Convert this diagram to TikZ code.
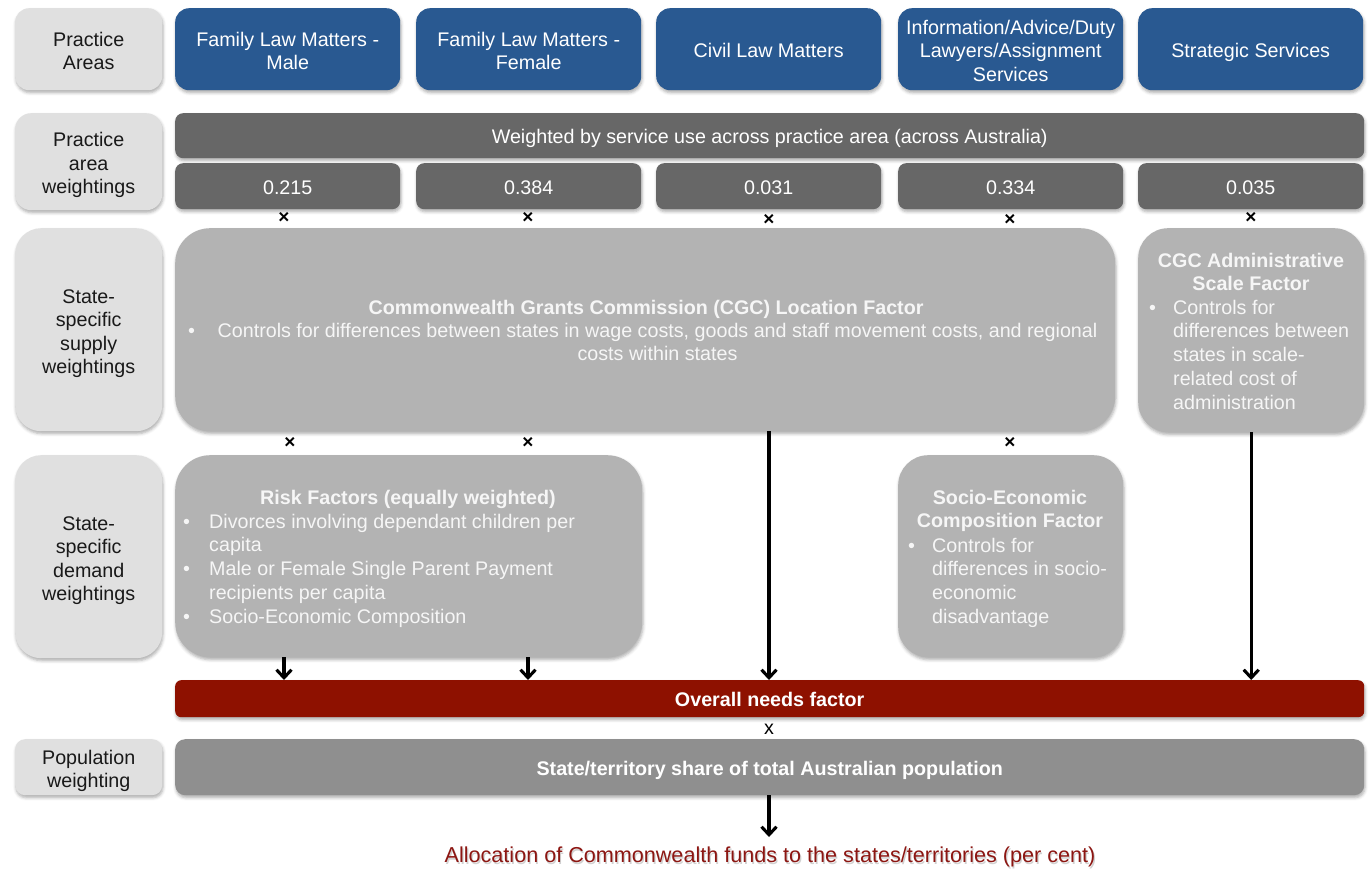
\documentclass[tikz,border=0pt]{standalone}
\usepackage{fontspec}
\setmainfont{Liberation Sans}
\usetikzlibrary{shadows.blur,arrows.meta}

\definecolor{areablue}{RGB}{41,89,145}
\definecolor{labelgrey}{RGB}{224,224,224}
\definecolor{labeltext}{RGB}{25,25,25}
\definecolor{weightgrey}{RGB}{103,103,103}
\definecolor{factorgrey}{RGB}{179,179,179}
\definecolor{factortext}{RGB}{246,246,246}
\definecolor{needsred}{RGB}{142,17,0}
\definecolor{popgrey}{RGB}{143,143,143}
\definecolor{allocred}{RGB}{140,22,18}

\newcommand\bodyfont{\fontsize{19.7}{23.4}\selectfont}
\newcommand\allocfont{\fontsize{21.6}{24}\selectfont}
\newcommand\multfont{\fontsize{19}{19}\selectfont\bfseries}
\newcommand\bul[1]{\makebox[#1][l]{\textbullet}}
% centred block of evenly spaced lines; its depth is trimmed so that it sits a little low in its box
\newcommand\cell[1]{\raisebox{0pt}[\height][\dimexpr\depth-8pt\relax]{\begin{tabular}{@{}c@{}}#1\end{tabular}}}

\begin{document}
\begin{tikzpicture}[x=1pt,y=-1pt,
  panel/.style={rectangle, rounded corners=#1, inner sep=0pt, anchor=north west,
    align=center, font=\bodyfont,
    blur shadow={shadow xshift=0.8pt, shadow yshift=-2.5pt,
      shadow blur radius=3pt, shadow opacity=32}},
  dims/.style 2 args={minimum width=#1pt, minimum height=#2pt},
  rowlabel/.style={panel=#1, fill=labelgrey, text=labeltext},
  area/.style={panel=14pt, dims={225}{82}, fill=areablue, text=white},
  weight/.style={panel=8pt, dims={225}{46}, fill=weightgrey, text=white},
  factor/.style={panel=#1, fill=factorgrey},
  txt/.style={inner sep=0pt, text=factortext, font=\bodyfont},
  mult/.style={inner sep=0pt, font=\multfont, text=black},
  flow/.style={draw=black, line width=3.1pt,
    -{Straight Barb[length=8pt, width=15pt]}}
]
\useasboundingbox (0,0) rectangle (1370,869);

% row labels
\node[rowlabel=14pt, dims={147}{82}]  (lblA) at (15,8)   {\cell{Practice\\Areas}};
\node[rowlabel=16pt, dims={147}{97}]  (lblB) at (15,113) {\cell{Practice\\area\\weightings}};
\node[rowlabel=26pt, dims={147}{203}] (lblC) at (15,228) {\cell{State-\\specific\\supply\\weightings}};
\node[rowlabel=26pt, dims={147}{203}] (lblD) at (15,455) {\cell{State-\\specific\\demand\\weightings}};
\node[rowlabel=10pt, dims={147}{56}]  (lblE) at (15,739) {\cell{Population\\weighting}};

% practice areas
\node[area] (fam1)   at (175,8)  {\cell{Family Law Matters -\\Male}};
\node[area] (fam2)   at (416,8)  {\cell{Family Law Matters -\\Female}};
\node[area] (civil)  at (656,8)  {\cell{Civil Law Matters}};
\node[area] (info)   at (898,8)  {\cell{Information/Advice/Duty\\Lawyers/Assignment\\Services}};
\node[area] (strat)  at (1138,8) {\cell{Strategic Services}};

% practice area weightings
\node[panel=8pt, dims={1189}{45}, fill=weightgrey, text=white] (wbar) at (175,113)
  {\cell{Weighted by service use across practice area (across Australia)}};
\node[weight] (w1) at (175,163)  {\cell{0.215}};
\node[weight] (w2) at (416,163)  {\cell{0.384}};
\node[weight] (w3) at (656,163)  {\cell{0.031}};
\node[weight] (w4) at (898,163)  {\cell{0.334}};
\node[weight] (w5) at (1138,163) {\cell{0.035}};

% multiplication marks between the rows
\node[mult] (m1) at (284,218)  {×};
\node[mult] (m2) at (528,218)  {×};
\node[mult] (m3) at (769,220)  {×};
\node[mult] (m4) at (1010,220) {×};
\node[mult] (m5) at (1251,218) {×};
\node[mult] (m6) at (290,443)  {×};
\node[mult] (m7) at (528,443)  {×};
\node[mult] (m8) at (1010,443) {×};

% supply weightings
\node[factor=35pt, dims={940}{203}] (loc) at (175,228) {};
\node[txt, anchor=base, font=\bodyfont\bfseries] (locTitle) at (646,314)
  {Commonwealth Grants Commission (CGC) Location Factor};
\node[txt, anchor=base west] (locBullet) at (188,337) {\textbullet};
\node[txt, anchor=base, font=\fontsize{19.7}{23.8}\selectfont] (locText) at (657.5,337)
  {\begin{tabular}[t]{@{}c@{}}Controls for differences between states in wage costs, goods and staff movement costs, and regional\\
   costs within states\end{tabular}};

\node[factor=30pt, dims={226}{204}] (admin) at (1138,228) {};
\node[txt, anchor=base, font=\fontsize{19.7}{23.8}\selectfont\bfseries] (adminTitle) at (1251,267)
  {\begin{tabular}[t]{@{}c@{}}CGC Administrative\\Scale Factor\end{tabular}};
\node[txt, anchor=base west, font=\fontsize{19.7}{23.9}\selectfont] (adminText) at (1149,314)
  {\begin{tabular}[t]{@{}l@{}l@{}}\bul{24pt} & Controls for\\ & differences between\\
   & states in scale-\\ & related cost of\\ & administration\end{tabular}};

% demand weightings
\node[factor=35pt, dims={467}{202}] (risk) at (175,455) {};
\node[txt, anchor=base, font=\bodyfont\bfseries] (riskTitle) at (408,504)
  {Risk Factors (equally weighted)};
\node[txt, anchor=base west, font=\fontsize{19.7}{23.8}\selectfont] (riskText) at (183,528)
  {\begin{tabular}[t]{@{}l@{}l@{}}\bul{26pt} & Divorces involving dependant children per\\ & capita\\
   \bul{26pt} & Male or Female Single Parent Payment\\ & recipients per capita\\
   \bul{26pt} & Socio-Economic Composition\end{tabular}};

\node[factor=30pt, dims={225}{202}] (socio) at (898,455) {};
\node[txt, anchor=base, font=\fontsize{19.7}{23.8}\selectfont\bfseries] (socioTitle) at (1010,504)
  {\begin{tabular}[t]{@{}c@{}}Socio-Economic\\Composition Factor\end{tabular}};
\node[txt, anchor=base west, font=\fontsize{19.7}{23.8}\selectfont] (socioText) at (908,552)
  {\begin{tabular}[t]{@{}l@{}l@{}}\bul{24pt} & Controls for\\ & differences in socio-\\
   & economic\\ & disadvantage\end{tabular}};

% overall needs and population
\node[panel=6pt, dims={1189}{37}, fill=needsred, text=white, font=\bodyfont\bfseries] (need) at (175,680)
  {\cell{Overall needs factor}};
\node[inner sep=0pt, font=\bodyfont] (mx) at (769,729) {x};
\node[panel=10pt, dims={1189}{56}, fill=popgrey, text=white, font=\bodyfont\bfseries] (pop) at (175,739)
  {\cell{State/territory share of total Australian population}};

% result
\node[inner sep=0pt, anchor=base, font=\allocfont, text=black, opacity=0.18] (allocShade) at (771.2,864)
  {Allocation of Commonwealth funds to the states/territories (per cent)};
\node[inner sep=0pt, anchor=base, font=\allocfont, text=allocred] (alloc) at (770,862)
  {Allocation of Commonwealth funds to the states/territories (per cent)};
\coordinate (allocTop) at (769,837);

% flow arrows
\coordinate (c1) at (284,0);
\coordinate (c2) at (528,0);
\coordinate (c3) at (769,0);
\draw[flow] (risk.south -| c1) -- (need.north -| c1);
\draw[flow] (risk.south -| c2) -- (need.north -| c2);
\draw[flow] (loc.south -| c3) -- (need.north -| c3);
\draw[flow] (admin.south) -- (admin.south |- need.north);
\draw[flow] (pop.south -| c3) -- (allocTop);
\end{tikzpicture}
\end{document}
